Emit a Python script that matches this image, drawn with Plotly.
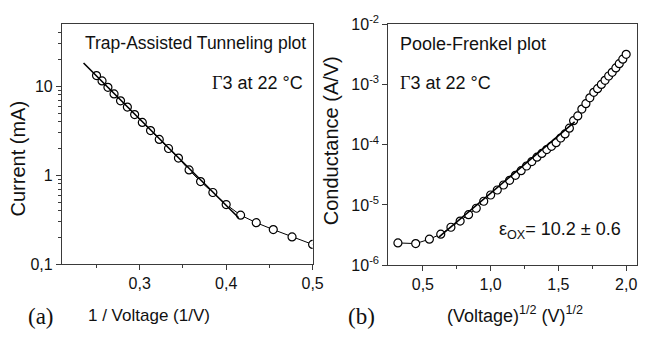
import plotly.graph_objects as go

# ---- data ----
tat_inv_v = [0.2500, 0.2564, 0.2632, 0.2703, 0.2778, 0.2857, 0.2941, 0.3030, 0.3125,
             0.3226, 0.3333, 0.3448, 0.3571, 0.3704, 0.3846, 0.4000, 0.4167, 0.4348,
             0.4545, 0.4762, 0.5000]
tat_current = [13.2, 11.5, 9.75, 8.22, 6.88, 5.85, 4.81, 3.93, 3.18, 2.53, 2.0, 1.56,
               1.15, 0.849, 0.640, 0.469, 0.356, 0.293, 0.245, 0.203, 0.167]
tat_fit_x = [0.235, 0.4144]
tat_fit_y = [18.3, 0.333]

pf_sqrt_v = [0.316, 0.447, 0.548, 0.632, 0.707, 0.775, 0.837, 0.894, 0.949, 1.000,
             1.049, 1.095, 1.140, 1.183, 1.225, 1.265, 1.304, 1.342, 1.378, 1.414,
             1.449, 1.483, 1.517, 1.549, 1.581, 1.612, 1.643, 1.673, 1.703, 1.732,
             1.761, 1.789, 1.817, 1.844, 1.871, 1.897, 1.924, 1.949, 1.975, 2.000]
pf_conductance = [2.34e-6, 2.28e-6, 2.70e-6, 3.27e-6, 4.26e-6, 5.4e-6, 6.9e-6, 8.8e-6,
                  1.15e-5, 1.46e-5, 1.77e-5, 2.14e-5, 2.56e-5, 3.1e-5, 3.7e-5, 4.43e-5,
                  5.25e-5, 6.2e-5, 7.15e-5, 8.3e-5, 9.4e-5, 1.08e-4, 1.29e-4, 1.51e-4,
                  1.88e-4, 2.5e-4, 3.0e-4, 3.9e-4, 4.8e-4, 6.0e-4, 7.4e-4, 8.5e-4,
                  1.0e-3, 1.17e-3, 1.38e-3, 1.59e-3, 1.88e-3, 2.21e-3, 2.63e-3, 3.16e-3]
pf_fit_x = [0.62, 1.62]
pf_fit_y = [2.95e-6, 2.4e-4]

left_x_ticks = [0.3, 0.4, 0.5]
left_y_ticks = [0.1, 1, 10]
left_y_ticktext = ["0,1", "1", "10"]
right_x_ticks = [0.5, 1.0, 1.5, 2.0]
right_y_ticks = [1e-6, 1e-5, 1e-4, 1e-3, 1e-2]
right_y_ticktext = ["10<sup>-6</sup>", "10<sup>-5</sup>", "10<sup>-4</sup>",
                    "10<sup>-3</sup>", "10<sup>-2</sup>"]

W, H = 649, 341
SANS = "Liberation Sans, Arial, sans-serif"
SERIF = "Liberation Serif, Times New Roman, serif"
AX = "#3a3a3a"

fig = go.Figure()

marker = dict(symbol="circle", size=8, color="white", line=dict(color="black", width=1.2))

fig.add_trace(go.Scatter(x=tat_inv_v, y=tat_current, mode="lines+markers",
                         line=dict(color="black", width=1), marker=marker,
                         xaxis="x", yaxis="y", showlegend=False))
fig.add_trace(go.Scatter(x=tat_fit_x, y=tat_fit_y, mode="lines",
                         line=dict(color="black", width=1.6),
                         xaxis="x", yaxis="y", showlegend=False))
fig.add_trace(go.Scatter(x=pf_sqrt_v, y=pf_conductance, mode="lines+markers",
                         line=dict(color="black", width=1), marker=marker,
                         xaxis="x2", yaxis="y2", showlegend=False))
fig.add_trace(go.Scatter(x=pf_fit_x, y=pf_fit_y, mode="lines",
                         line=dict(color="black", width=1.6),
                         xaxis="x2", yaxis="y2", showlegend=False))


def px(x):
    return x / W


def py(y):
    return 1 - y / H


axis_common = dict(showline=True, linecolor=AX, linewidth=1, mirror=True,
                   showgrid=False, zeroline=False, ticks="outside", ticklen=5,
                   tickcolor=AX, tickwidth=1,
                   tickfont=dict(family=SANS, size=16, color="#111"))

fig.update_layout(
    width=W, height=H, margin=dict(l=0, r=0, t=0, b=0),
    paper_bgcolor="white", plot_bgcolor="white", separators=",.",
    xaxis=dict(domain=[px(63), px(318)], range=[0.21, 0.5], anchor="y",
               tickvals=left_x_ticks, tickformat=".1f",
               minor=dict(tickvals=[0.25, 0.35, 0.45], ticks="outside", ticklen=3,
                          tickcolor=AX),
               **axis_common),
    yaxis=dict(domain=[py(269), py(14)], type="log", range=[-1, 1.699], anchor="x",
               tickvals=left_y_ticks, ticktext=left_y_ticktext,
               minor=dict(tickvals=[0.2, 0.3, 0.4, 0.5, 0.6, 0.7, 0.8, 0.9,
                                    2, 3, 4, 5, 6, 7, 8, 9, 20, 30, 40],
                          ticks="outside", ticklen=3, tickcolor=AX),
               **axis_common),
    xaxis2=dict(domain=[px(395), px(648)], range=[0.245, 2.08], anchor="y2",
                tickvals=right_x_ticks, tickformat=".1f",
                minor=dict(tickvals=[0.75, 1.25, 1.75], ticks="outside", ticklen=3,
                           tickcolor=AX),
                **axis_common),
    yaxis2=dict(domain=[py(270), py(14)], type="log", range=[-6, -2], anchor="x2",
                tickvals=right_y_ticks, ticktext=right_y_ticktext,
                **axis_common),
)

ann = []


def add(text, x, y, size=19, family=SANS, angle=0, xanchor="center"):
    ann.append(dict(text=text, x=px(x), y=py(y), xref="paper", yref="paper",
                    showarrow=False, textangle=angle, xanchor=xanchor, yanchor="middle",
                    font=dict(family=family, size=size, color="#111")))


GAMMA = "<span style='font-family:Liberation Serif'>Γ</span>3 at 22 °C"

add("Trap-Assisted Tunneling plot", 313, 34, size=17.5, xanchor="right")
add(GAMMA, 310, 76, size=18, xanchor="right")
add("Current (mA)", 18, 157, size=20, angle=-90)
add("1 / Voltage (1/V)", 152, 324, size=17)
add("(a)", 42, 325, size=23, family=SERIF)

add("Poole-Frenkel plot", 405, 35, size=18, xanchor="left")
add(GAMMA, 405, 77, size=18, xanchor="left")
add("ε<sub>OX</sub>= 10.2 ± 0.6", 506, 233, size=18, xanchor="left")
add("Conductance (A/V)", 337, 138, size=20, angle=-90)
add("(Voltage)<sup>1/2</sup> (V)<sup>1/2</sup>", 524, 322, size=18)
add("(b)", 368, 325, size=23, family=SERIF)

fig.update_layout(annotations=ann)

fig.write_html("out.html")
